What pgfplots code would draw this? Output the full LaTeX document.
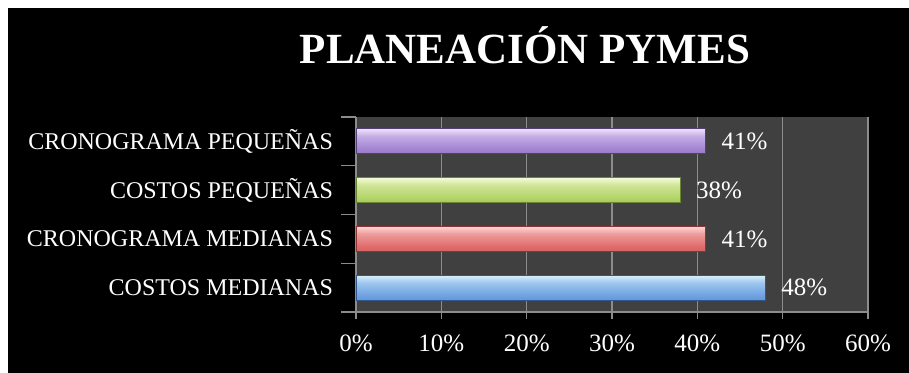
\documentclass[border=0pt]{standalone}
\usepackage{pgfplots}
\pgfplotsset{compat=1.18}
\pgfplotsset{/pgf/number format/assume math mode=true}
\usepackage{fontspec}
\setmainfont{Liberation Serif}
\definecolor{plotbg}{HTML}{404040}
\definecolor{gridc}{HTML}{8C8C8C}
\definecolor{purT}{HTML}{B99CE0}\definecolor{purH}{HTML}{F6EAFF}\definecolor{purM}{HTML}{A284D2}\definecolor{purB}{HTML}{7A5DA6}\definecolor{purD}{HTML}{55407A}
\definecolor{grnT}{HTML}{CAE58C}\definecolor{grnH}{HTML}{FBFFE0}\definecolor{grnM}{HTML}{B3D468}\definecolor{grnB}{HTML}{88A944}\definecolor{grnD}{HTML}{6A8834}
\definecolor{redT}{HTML}{EE8C8A}\definecolor{redH}{HTML}{FFE4E4}\definecolor{redM}{HTML}{E06C6A}\definecolor{redB}{HTML}{BE4E4B}\definecolor{redD}{HTML}{8E3533}
\definecolor{bluT}{HTML}{8EC8F4}\definecolor{bluH}{HTML}{E6FBFF}\definecolor{bluM}{HTML}{6FA3E2}\definecolor{bluB}{HTML}{4679BE}\definecolor{bluD}{HTML}{30588C}
\pgfdeclareverticalshading{shpur}{100bp}{color(0bp)=(purB); color(35bp)=(purM); color(60bp)=(purM!60!purH); color(78bp)=(purH); color(100bp)=(purT)}
\pgfdeclareverticalshading{shgrn}{100bp}{color(0bp)=(grnB); color(35bp)=(grnM); color(60bp)=(grnM!60!grnH); color(78bp)=(grnH); color(100bp)=(grnT)}
\pgfdeclareverticalshading{shred}{100bp}{color(0bp)=(redB); color(35bp)=(redM); color(60bp)=(redM!60!redH); color(78bp)=(redH); color(100bp)=(redT)}
\pgfdeclareverticalshading{shblu}{100bp}{color(0bp)=(bluB); color(35bp)=(bluM); color(60bp)=(bluM!60!bluH); color(78bp)=(bluH); color(100bp)=(bluT)}
\begin{document}
\begin{tikzpicture}
\fill[white] (0bp,0bp) rectangle (909bp,373bp);
\fill[black] (8bp,0bp) rectangle (909bp,365bp);
\node[text=white, font=\fontsize{43bp}{48bp}\selectfont\bfseries, anchor=base] at (525bp,309bp) {PLANEACIÓN PYMES};
\begin{axis}[
  at={(356bp,61bp)}, anchor=south west,
  scale only axis, width=512bp, height=195bp,
  xmin=0, xmax=60, ymin=-0.5, ymax=3.5,
  xbar, bar width=25bp, bar shift=0pt,
  axis background/.style={fill=plotbg},
  axis lines*=left,
  axis line style={gridc, line width=1.2bp},
  xtick={0,10,...,60},
  xticklabel={\pgfmathprintnumber{\tick}\%},
  xmajorgrids,
  grid style={gridc, line width=1.2bp},
  ytick={-0.5,0.5,1.5,2.5,3.5},
  y tick label as interval,
  yticklabels={COSTOS MEDIANAS, CRONOGRAMA MEDIANAS, COSTOS PEQUEÑAS, CRONOGRAMA PEQUEÑAS},
  tick align=center, major tick length=15bp,
  tick style={gridc, line width=1.2bp},
  ytick style={xshift=-7.5bp},
  ticklabel style={text=white, font=\fontsize{25bp}{30bp}\selectfont},
  yticklabel style={font=\fontsize{24bp}{29bp}\selectfont, xshift=-12bp},
  xticklabel style={yshift=-12bp},
  nodes near coords={\pgfmathprintnumber{\pgfplotspointmeta}\%},
  nodes near coords style={text=white, font=\fontsize{25bp}{30bp}\selectfont, anchor=west, xshift=12bp},
  clip=false,
]
\addplot[draw=bluD, line width=1bp, shading=shblu] coordinates {(48,0)};
\addplot[draw=redD, line width=1bp, shading=shred] coordinates {(41,1)};
\addplot[draw=grnD, line width=1bp, shading=shgrn] coordinates {(38,2)};
\addplot[draw=purD, line width=1bp, shading=shpur] coordinates {(41,3)};
\end{axis}
\end{tikzpicture}
\end{document}
